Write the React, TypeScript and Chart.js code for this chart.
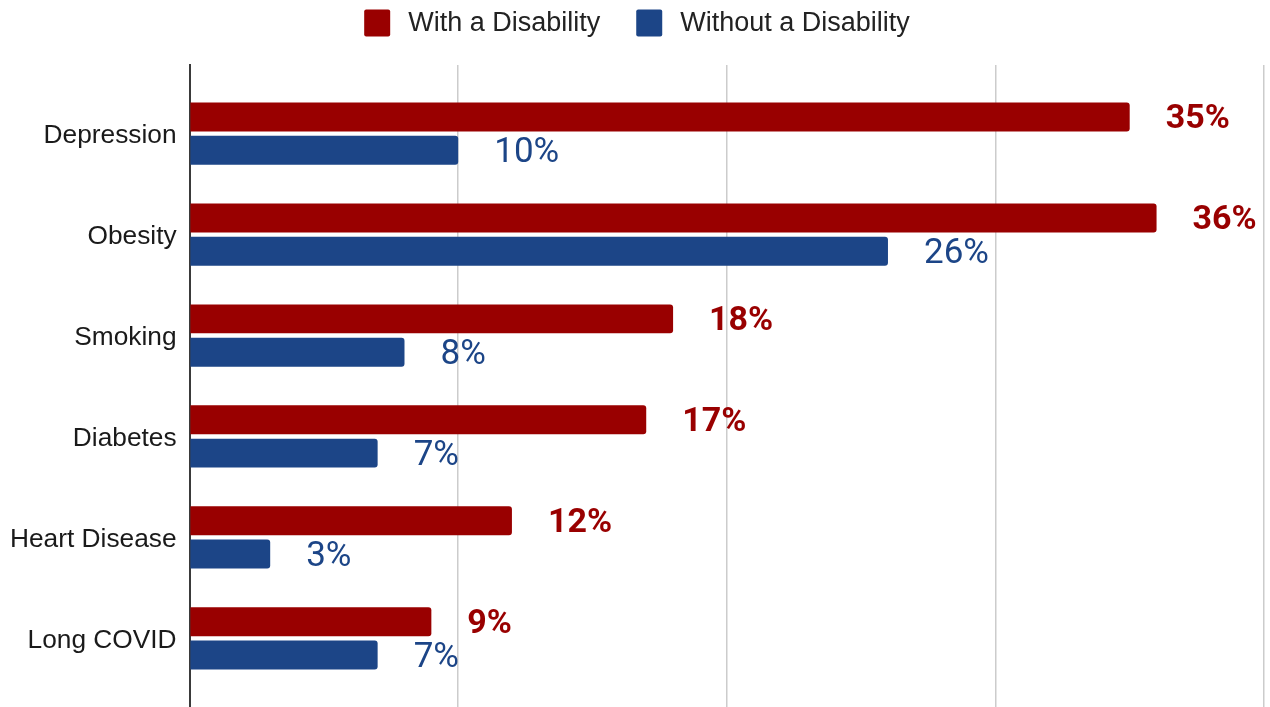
import { useEffect, useRef } from "react";
import { Chart, registerables } from "chart.js";

Chart.register(...registerables);

const categories = ["Depression", "Obesity", "Smoking", "Diabetes", "Heart Disease", "Long COVID"];
const withDisability = [35, 36, 18, 17, 12, 9];
const withoutDisability = [10, 26, 8, 7, 3, 7];
const seriesNames = ["With a Disability", "Without a Disability"];
const seriesColors = ["#990000", "#1c4587"];
const xMin = 0;
const xMax = 40;
const xStep = 10;

const LABEL_FONT = '"Liberation Sans", Arial, sans-serif';

const valueLabels = {
  id: "valueLabels",
  afterDatasetsDraw(chart: any) {
    const ctx = chart.ctx;
    chart.data.datasets.forEach((ds: any, di: number) => {
      const meta = chart.getDatasetMeta(di);
      meta.data.forEach((el: any, i: number) => {
        const v = ds.data[i].x;
        ctx.save();
        ctx.font = di === 0 ? "bold 34px Roboto" : "35px Roboto";
        ctx.fillStyle = seriesColors[di];
        ctx.textBaseline = "middle";
        ctx.textAlign = "left";
        ctx.fillText(`${v}%`, el.x + 36, el.y + 3);
        ctx.restore();
      });
    });
  },
};

const topLegend = {
  id: "topLegend",
  afterDraw(chart: any) {
    const ctx = chart.ctx;
    ctx.save();
    ctx.font = `27px ${LABEL_FONT}`;
    const widths = seriesNames.map((n) => ctx.measureText(n).width);
    const box = 26;
    const boxH = 27;
    const gap = 18;
    const between = 36;
    const total =
      widths.reduce((s: number, w: number) => s + box + gap + w, 0) + between * (seriesNames.length - 1);
    let x = (chart.width - total) / 2 + 2;
    const yMid = 23;
    seriesNames.forEach((n, i) => {
      ctx.fillStyle = seriesColors[i];
      ctx.beginPath();
      ctx.roundRect(x, yMid - boxH / 2, box, boxH, 2);
      ctx.fill();
      ctx.fillStyle = "#222222";
      ctx.textBaseline = "middle";
      ctx.textAlign = "left";
      ctx.fillText(n, x + box + gap, yMid + 1);
      x += box + gap + widths[i] + between;
    });
    ctx.restore();
  },
};

export default function App() {
  const canvasRef = useRef<HTMLCanvasElement | null>(null);

  useEffect(() => {
    if (!canvasRef.current) return;
    const series = [withDisability, withoutDisability];
    const chart = new Chart(canvasRef.current, {
      type: "bar",
      data: {
        datasets: series.map((vals, si) => ({
          label: seriesNames[si],
          data: categories.map((_, i) => ({ x: vals[i], y: i })),
          backgroundColor: seriesColors[si],
          borderRadius: 3,
          borderSkipped: "start",
          categoryPercentage: 0.66,
          barPercentage: 0.87,
        })),
      },
      options: {
        indexAxis: "y",
        animation: false,
        responsive: true,
        maintainAspectRatio: false,
        layout: { padding: { top: 65, left: 10, right: 6, bottom: 0 } },
        plugins: {
          legend: { display: false },
          tooltip: { enabled: false },
        },
        scales: {
          x: {
            type: "linear",
            position: "bottom",
            min: xMin,
            max: xMax,
            ticks: { display: false, stepSize: xStep },
            grid: {
              drawTicks: false,
              lineWidth: 1.5,
              color: (c: any) => (c.tick && c.tick.value === xMin ? "rgba(0,0,0,0)" : "#cccccc"),
            },
            border: { display: false },
          },
          y: {
            type: "linear",
            reverse: true,
            offset: false,
            min: -0.68,
            max: categories.length - 1 + 0.68,
            afterBuildTicks: (scale: any) => {
              scale.ticks = categories.map((_, i) => ({ value: i }));
            },
            ticks: {
              callback: (v: any) => categories[v as number] ?? "",
              font: { family: LABEL_FONT, size: 26.3, lineHeight: 0 },
              color: "#1a1a1a",
              padding: 0,
              labelOffset: 2,
            },
            grid: { display: false, drawTicks: true, tickLength: 13 },
            border: { display: true, color: "#3a3a3a", width: 2 },
          },
        },
      },
      plugins: [valueLabels, topLegend],
    } as any);
    return () => chart.destroy();
  }, []);

  return (
    <div style={{ position: "fixed", left: 0, top: 0, width: "100vw", height: "100vh", background: "#ffffff" }}>
      <canvas ref={canvasRef} />
    </div>
  );
}
